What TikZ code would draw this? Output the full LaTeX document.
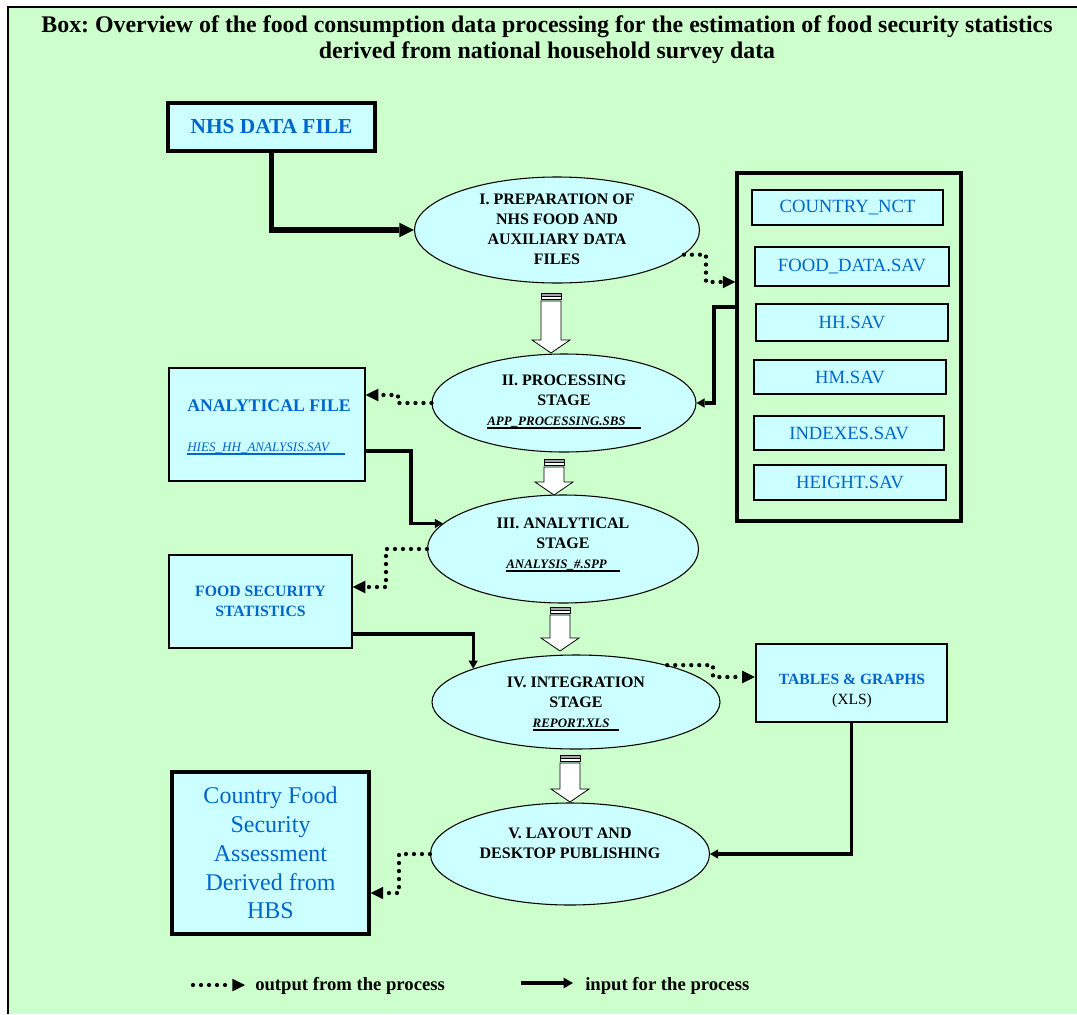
\documentclass[tikz,border=0pt]{standalone}
\usepackage{fontspec}
\setmainfont{Liberation Serif}
\usetikzlibrary{shapes.geometric,arrows.meta}
\definecolor{bg}{HTML}{CCFFCC}
\definecolor{boxc}{HTML}{CCFFFF}
\definecolor{bluetxt}{HTML}{0066CC}
\newcommand\px{*0.75pt}
\newcommand\fs[2]{\fontsize{#1}{#2}\selectfont}
\newcommand\ulx[2]{\leavevmode\rlap{\rule[-2.2pt]{#2}{1pt}}\makebox[#2][l]{#1}}
\newcommand\fatarrow[3]{%
  \filldraw[draw=black, fill=gray!70, line width=0.5pt] (#1-10,#2) rectangle (#1+10,#2+3);
  \filldraw[draw=black, fill=white, line width=0.5pt] (#1-10,#2+3) rectangle (#1+10,#2+6);
  \filldraw[draw=black, fill=white, line width=0.6pt] (#1-10,#2+8) -- (#1-10,#3-13) -- (#1-19,#3-13) -- (#1,#3) -- (#1+19,#3-13) -- (#1+10,#3-13) -- (#1+10,#2+8) -- cycle;}
\frenchspacing
\begin{document}
\begin{tikzpicture}[x=0.75pt,y=-0.75pt,
  ell/.style={ellipse, draw, fill=boxc, line width=0.8pt, inner sep=0pt},
  etext/.style={font=\bfseries\fs{12}{15}, align=center, inner sep=0pt},
  fbox/.style={draw, line width=1.4pt, fill=boxc, text=bluetxt, font=\fs{14}{16}, inner sep=0pt, minimum width=192\px},
  inarr/.style={line width=2.3pt, -{Triangle[length=6pt,width=7pt,line width=0pt]}},
  outarr/.style={line width=3.2pt, dash pattern=on 0pt off 6pt, line cap=round, -{Triangle[length=9.5pt,width=9.5pt,line width=0pt]}}
]
\useasboundingbox (0,0) rectangle (1077,1014);
\fill[white] (0,0) rectangle (1077,1014);
\fill[bg] (8,7) rectangle (1077,1014);
\draw[line width=1.5pt] (8,1014) -- (8,7) -- (1077,7);

\node[font=\bfseries\fs{17.9}{19.5}, align=center, inner sep=0pt] (title) at (547,40)
  {Box: Overview of the food consumption data processing for the estimation of food security statistics\\derived from national household survey data};

% left boxes
\node[draw, line width=2.3pt, fill=boxc, text=bluetxt, font=\bfseries\fs{16}{19}, minimum width=207\px, minimum height=48\px, inner sep=0pt] (nhs) at (271.5,127) {NHS DATA FILE};

\node[draw, line width=1pt, fill=boxc, minimum width=196\px, minimum height=113\px, inner sep=0pt] (af) at (267,424.5) {};
\node[font=\bfseries\fs{13.3}{16}, text=bluetxt, inner sep=0pt] (aft) at (269,406) {ANALYTICAL FILE};
\node[anchor=west, inner sep=0pt, font=\itshape\fs{9.8}{12}, text=bluetxt] (afn) at (187,449) {\ulx{HIES\_HH\_ANALYSIS.SAV}{118pt}};

\node[draw, line width=1pt, fill=boxc, minimum width=183\px, minimum height=93\px, text=bluetxt, font=\bfseries\fs{11.8}{15}, align=center, inner sep=0pt] (fss) at (260.5,601.5) {FOOD SECURITY\\STATISTICS};

\node[draw, line width=2.3pt, fill=boxc, minimum width=197\px, minimum height=162\px, text=bluetxt, font=\fs{18}{21.6}, align=center, inner sep=0pt] (cfs) at (270.5,853) {Country Food\\Security\\Assessment\\Derived from\\HBS};

% right container
\node[draw, line width=2.3pt, minimum width=224\px, minimum height=348\px, inner sep=0pt] (cont) at (849,347) {};
\node[fbox, minimum width=191\px, minimum height=35\px] (f1) at (847.5,207.5) {COUNTRY\_NCT};
\node[fbox, minimum width=194\px, minimum height=39\px] (f2) at (852,266.5) {FOOD\_DATA.SAV};
\node[fbox, minimum height=37\px] (f3) at (852,322.5) {HH.SAV};
\node[fbox, minimum height=34\px] (f4) at (850,377) {HM.SAV};
\node[fbox, minimum width=190\px, minimum height=34\px] (f5) at (849,433) {INDEXES.SAV};
\node[fbox, minimum height=35\px] (f6) at (850,482.5) {HEIGHT.SAV};

\node[draw, line width=1.8pt, fill=boxc, minimum width=191\px, minimum height=78\px, inner sep=0pt] (tab) at (851.5,683) {};
\node[align=center, font=\fs{11.7}{15}, inner sep=0pt] (tabt) at (852,691) {\textcolor{bluetxt}{\bfseries TABLES \& GRAPHS}\\(XLS)};

% ellipses
\node[ell, minimum width=285\px, minimum height=106\px] (E1) at (557,230) {};
\node[etext] (t1) at (557,229) {I. PREPARATION OF\\NHS FOOD AND\\AUXILIARY DATA\\FILES};
\node[ell, minimum width=264\px, minimum height=98\px] (E2) at (564,403) {};
\node[etext] (t2) at (564,402) {II. PROCESSING\\STAGE\\{\bfseries\itshape\fs{9.7}{12}\ulx{APP\_PROCESSING.SBS}{115pt}}};
\node[ell, minimum width=271\px, minimum height=108\px] (E3) at (563,549) {};
\node[etext] (t3) at (563,545) {III. ANALYTICAL\\STAGE\\{\bfseries\itshape\fs{9.7}{12}\ulx{ANALYSIS\_\#.SPP}{85pt}}};
\node[ell, minimum width=288\px, minimum height=94\px] (E4) at (576,702) {};
\node[etext] (t4) at (576,704) {IV. INTEGRATION\\STAGE\\{\bfseries\itshape\fs{9.7}{12}\ulx{REPORT.XLS}{65pt}}};
\node[ell, minimum width=279\px, minimum height=102\px] (E5) at (570,854) {};
\node[etext] (t5) at (570,843) {V. LAYOUT AND\\DESKTOP PUBLISHING};

% hollow flow arrows
\fatarrow{551}{293}{353}
\fatarrow{554}{459}{495}
\fatarrow{560}{607}{651}
\fatarrow{570}{755}{802}

% connectors
\draw[line width=3.8pt, -{Triangle[length=11pt,width=11pt,line width=0pt]}] (nhs.south) |- (E1.west);
\draw[outarr] (E1.-11) -| (706,282) -- (cont.west |- 706,282);
\draw[inarr] (cont.west |- 0,307) -- (714,307) |- (E2.east);
\draw[outarr] (E2.west) -- (398,403) -- (398,395) -- (af.east |- 0,395);
\draw[inarr] (af.east |- 0,451) -- (411,451) |- (E3.168);
\draw[outarr] (E3.west) -- (386,549) -- (386,587) -- (fss.east |- 0,587);
\draw[inarr] (fss.east |- 0,634) -| (E4.162);
\draw[outarr] (E4.22) -| (713,677) -- (tab.west |- 713,677);
\draw[inarr] (tab.south) |- (E5.east);
\draw[outarr] (E5.west) -- (399,854) -- (399,893) -- (cfs.east |- 0,893);

% legend
\coordinate (l1) at (193,985);
\coordinate (l2) at (245,985);
\coordinate (l3) at (521,983);
\coordinate (l4) at (573,983);
\draw[outarr] (l1) -- (l2);
\node[anchor=west, font=\bfseries\fs{14}{16}, inner sep=0pt] (lt1) at (255,986) {output from the process};
\draw[line width=3pt, -{Triangle[length=7pt,width=8pt,line width=0pt]}] (l3) -- (l4);
\node[anchor=west, font=\bfseries\fs{14}{16}, inner sep=0pt] (lt2) at (585,986) {input for the process};
\end{tikzpicture}
\end{document}
